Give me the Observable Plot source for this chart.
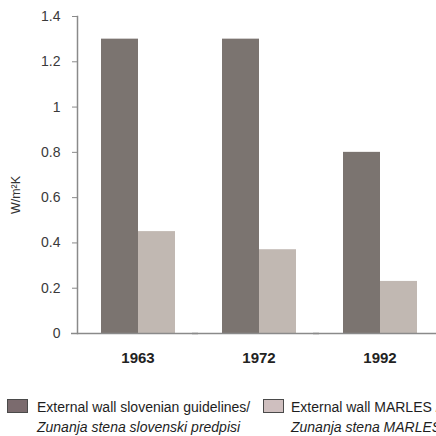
<!DOCTYPE html>
<html>
<head>
<meta charset="utf-8">
<script src="https://cdn.jsdelivr.net/npm/d3@7"></script>
<script src="https://cdn.jsdelivr.net/npm/@observablehq/plot@0.6"></script>
<style>
  html, body { margin: 0; padding: 0; background: #fff; }
  #clip { width: 436px; height: 436px; overflow: hidden; position: relative; }
  #chart { width: 441px; }
  #legend { position: absolute; top: 397px; left: 0; width: 600px; font-family: "Liberation Sans", Arial, sans-serif; font-size: 14px; line-height: 20px; color: #1e1e1e; }
  .item { position: absolute; top: 0; white-space: nowrap; }
  .sw { position: absolute; top: 2px; width: 19px; height: 12px; border: 1px solid #4a4a4a; }
  .txt { position: absolute; top: 0; }
  .txt i { display: block; }
</style>
</head>
<body>
<div id="clip">
  <div id="chart"></div>
  <div id="legend"></div>
</div>
<script>
const years = ["1963", "1972", "1992"];
const guidelines = [1.3, 1.3, 0.8];
const marles = [0.45, 0.37, 0.23];
const seriesKeys = ["guidelines", "marles"];
const seriesLine1 = ["External wall slovenian guidelines/", "External wall MARLES /"];
const seriesLine2 = ["Zunanja stena slovenski predpisi", "Zunanja stena MARLES"];
const barColors = ["#7b7470", "#c1b8b2"];
const swatchColors = ["#7b6b6e", "#cfbfbf"];
const yTicks = [0, 0.2, 0.4, 0.6, 0.8, 1, 1.2, 1.4];

const data = [];
years.forEach((y, i) => {
  data.push({year: y, series: seriesKeys[0], value: guidelines[i]});
  data.push({year: y, series: seriesKeys[1], value: marles[i]});
});

const plot = Plot.plot({
  width: 441,
  height: 378,
  marginLeft: 76,
  marginRight: 0,
  marginTop: 16,
  marginBottom: 45,
  style: {fontFamily: "'Liberation Sans', Arial, sans-serif", maxWidth: "none", overflow: "visible", background: "white"},
  fx: {domain: years, padding: 0, label: null},
  x: {domain: seriesKeys, axis: null, paddingInner: 0, paddingOuter: 0.6},
  y: {domain: [0, 1.4], label: null},
  color: {domain: seriesKeys, range: barColors},
  marks: [
    Plot.barY(data, {fx: "year", x: "series", y: "value", fill: "series"}),
    Plot.frame({anchor: "left", stroke: "#8a8a8a", strokeWidth: 1.5, facetAnchor: "left"}),
    Plot.ruleY([0], {stroke: "#8a8a8a", strokeWidth: 1.5, insetLeft: -6}),
    Plot.axisY({ticks: yTicks, tickSize: 5, tickPadding: 12, fontSize: 14, color: "#3a3a3a", stroke: "#8a8a8a",
      tickFormat: d => String(+d.toFixed(1)), label: null}),
    Plot.axisFx({anchor: "bottom", tickSize: 0, tickPadding: 19, fontSize: 15, fontWeight: "bold", color: "#222", label: null}),
    Plot.text(["W/m²K"], {frameAnchor: "left", textAnchor: "middle", rotate: -90, dx: -62, dy: 20, fontSize: 12.5, fill: "#333", facetAnchor: "left"})
  ]
});
document.getElementById("chart").appendChild(plot);

const legend = document.getElementById("legend");
const swatchX = [7, 263];
const textX = [37, 291];
seriesKeys.forEach((k, i) => {
  const item = document.createElement("div");
  item.className = "item";
  item.style.left = "0px";
  const sw = document.createElement("div");
  sw.className = "sw";
  sw.style.left = swatchX[i] + "px";
  sw.style.background = swatchColors[i];
  const txt = document.createElement("div");
  txt.className = "txt";
  txt.style.left = textX[i] + "px";
  txt.innerHTML = seriesLine1[i] + "<i>" + seriesLine2[i] + "</i>";
  item.appendChild(sw);
  item.appendChild(txt);
  legend.appendChild(item);
});
</script>
</body>
</html>
